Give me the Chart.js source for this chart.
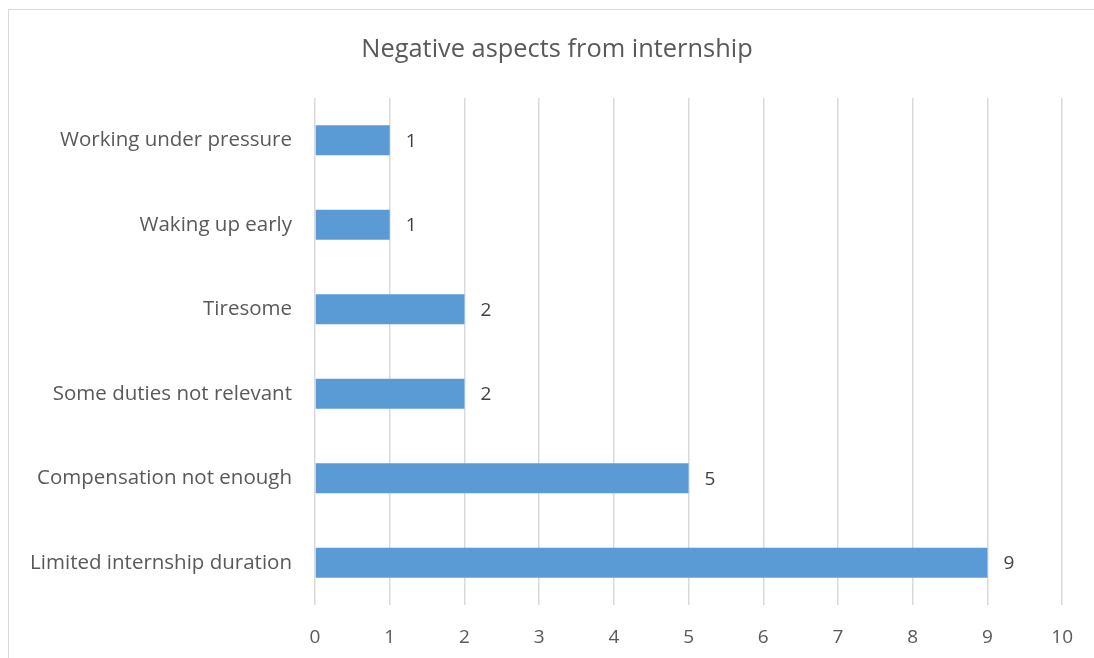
<!DOCTYPE html>
<html>
<head>
<meta charset="utf-8">
<script src="https://cdn.jsdelivr.net/npm/chart.js@4"></script>
<style>
  body { margin: 0; background: #fff; overflow: hidden; }
  #wrap { position: relative; width: 1094px; height: 658px; }
  #frame { position: absolute; left: 8px; top: 9px; width: 1090px; height: 660px; border: 1px solid #d9d9d9; box-sizing: border-box; }
  #chart { position: absolute; left: 0; top: 0; }
</style>
</head>
<body>
<div id="wrap">
  <div id="frame"></div>
  <canvas id="chart" width="1094" height="658"></canvas>
</div>
<script>
const categories = [
  'Working under pressure',
  'Waking up early',
  'Tiresome',
  'Some duties not relevant',
  'Compensation not enough',
  'Limited internship duration'
];
const counts = [1, 1, 2, 2, 5, 9];
const xTicks = [0, 1, 2, 3, 4, 5, 6, 7, 8, 9, 10];
const chartTitle = 'Negative aspects from internship';

const FONT = '"Open Sans", sans-serif';
const GREY = '#595959';

// title sits centred over the framed box, not the canvas
const boxTitle = {
  id: 'boxTitle',
  afterDraw(chart) {
    const ctx = chart.ctx;
    ctx.save();
    ctx.font = '25.4px ' + FONT;
    ctx.fillStyle = GREY;
    ctx.textAlign = 'center';
    ctx.textBaseline = 'middle';
    ctx.fillText(chartTitle, chart.width / 2 + 10, 50);
    ctx.restore();
  }
};

// writes each bar's value just past its end
const valueLabels = {
  id: 'valueLabels',
  afterDatasetsDraw(chart) {
    const ctx = chart.ctx;
    const meta = chart.getDatasetMeta(0);
    ctx.save();
    ctx.font = '19px ' + FONT;
    ctx.fillStyle = '#404040';
    ctx.textAlign = 'left';
    ctx.textBaseline = 'middle';
    meta.data.forEach(function(bar, i) {
      ctx.fillText(String(counts[i]), bar.x + 16, bar.y + 1);
    });
    ctx.restore();
  }
};

new Chart(document.getElementById('chart').getContext('2d'), {
  type: 'bar',
  data: {
    labels: categories,
    datasets: [{
      data: counts,
      backgroundColor: '#5b9bd5',
      categoryPercentage: 1,
      barPercentage: 0.355
    }]
  },
  plugins: [valueLabels, boxTitle],
  options: {
    indexAxis: 'y',
    responsive: false,
    animation: false,
    layout: { padding: { left: 0, right: 31, top: 98, bottom: 0 } },
    plugins: {
      legend: { display: false },
      tooltip: { enabled: false },
      title: { display: false }
    },
    scales: {
      x: {
        min: xTicks[0],
        max: xTicks[xTicks.length - 1],
        afterBuildTicks(scale) { scale.ticks = xTicks.map(v => ({ value: v })); },
        afterFit(scale) { scale.height = 53; },
        border: { display: false },
        grid: { color: '#d9d9d9', lineWidth: 1.5, drawTicks: false },
        ticks: { color: GREY, padding: 21, font: { family: FONT, size: 19 } }
      },
      y: {
        afterFit(scale) { scale.width = 315; },
        border: { display: false },
        grid: { display: false, drawTicks: false },
        ticks: { color: GREY, padding: 23, font: { family: FONT, size: 20.5 } }
      }
    }
  }
});
</script>
</body>
</html>
